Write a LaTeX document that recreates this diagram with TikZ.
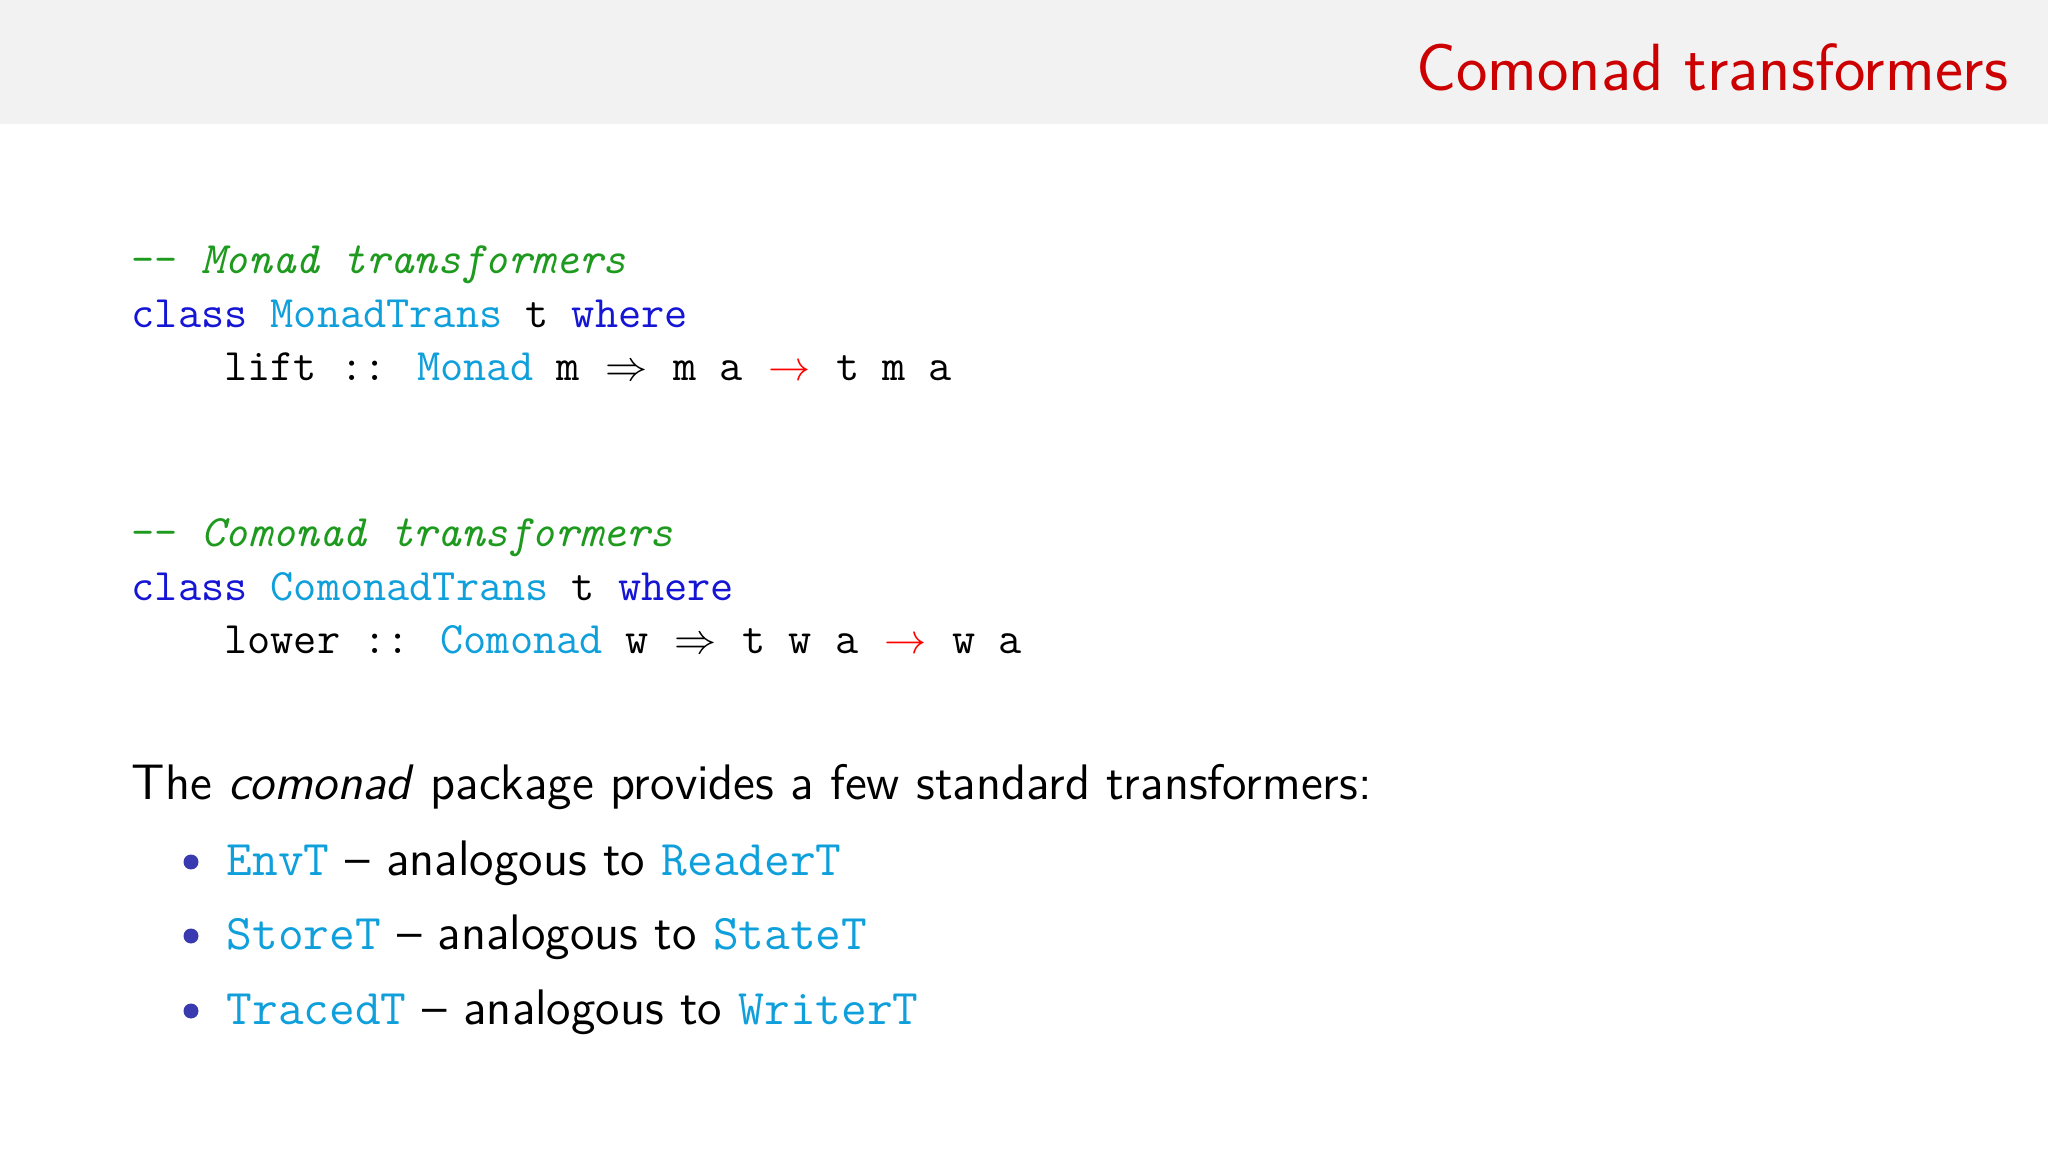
\documentclass[tikz,border=0pt]{standalone}
\usepackage{fontspec}
\definecolor{hdr}{HTML}{F2F2F2}
\definecolor{ttl}{HTML}{CC0000}
\definecolor{kw}{HTML}{1515D5}
\definecolor{ty}{HTML}{0FA0DC}
\definecolor{cm}{HTML}{1E9A1E}
\definecolor{bul}{HTML}{3A3AB0}
\newcommand{\RA}{\makebox[1.05em]{$\Rightarrow$}}
\newcommand{\ra}{\makebox[1.05em]{\color{red}$\rightarrow$}}
\begin{document}
\begin{tikzpicture}[x=1cm,y=1cm,
  code/.style={anchor=base west,inner sep=0pt,font=\fontsize{12.8}{15}\ttfamily},
  body/.style={anchor=base west,inner sep=0pt,font=\fontsize{14.2}{17}\sffamily}]
\useasboundingbox (0,-11.52) rectangle (20.48,0);
\fill[white] (0,-11.52) rectangle (20.48,0);
\fill[hdr] (0,-1.24) rectangle (20.48,0);
\node[anchor=base east,inner sep=0pt,text=ttl,font=\fontsize{19}{23}\sffamily] (title) at (20.09,-0.91) {Comonad transformers};
\node[code,text=cm] (c1) at (1.31,-2.74) {-- \textit{Monad transformers}};
\node[code] (c2) at (1.31,-3.28) {{\color{kw}class} {\color{ty}MonadTrans} t {\color{kw}where}};
\node[code] (c3) at (1.31,-3.81) {\ \ \ \ lift :: {\color{ty}Monad} m \RA{} m a \ra{} t m a};
\node[code,text=cm] (c4) at (1.31,-5.47) {-- \textit{Comonad transformers}};
\node[code] (c5) at (1.31,-6.01) {{\color{kw}class} {\color{ty}ComonadTrans} t {\color{kw}where}};
\node[code] (c6) at (1.31,-6.54) {\ \ \ \ lower :: {\color{ty}Comonad} w \RA{} t w a \ra{} w a};
\node[body] (p) at (1.31,-7.99) {The \textit{comonad} package provides a few standard transformers:};
\foreach \y/\n/\a/\b in {-8.75/b1/EnvT/ReaderT,-9.49/b2/StoreT/StateT,-10.24/b3/TracedT/WriterT}{
  \fill[bul] (1.91,\y+0.13) circle (0.075);
  \node[body] (\n) at (2.26,\y) {\texttt{\color{ty}\a} -- analogous to \texttt{\color{ty}\b}};
}
\end{tikzpicture}
\end{document}
